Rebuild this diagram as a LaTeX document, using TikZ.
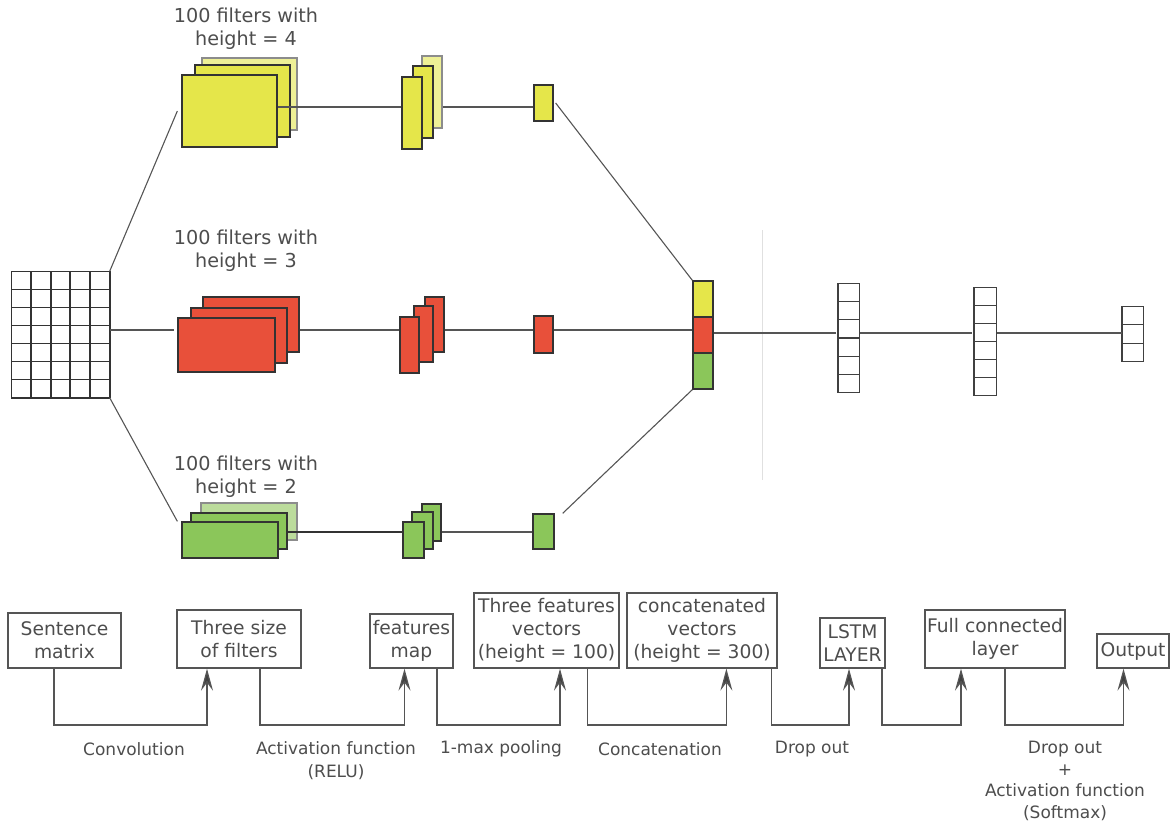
\documentclass[tikz,border=0pt]{standalone}
\usepackage{fontspec}
\setmainfont{DejaVu Sans}
\usetikzlibrary{arrows.meta,calc}
\definecolor{filterYellow}{HTML}{E5E64A}
\definecolor{paleYellow}{HTML}{EEF096}
\definecolor{filterRed}{HTML}{E8503A}
\definecolor{filterGreen}{HTML}{8BC65A}
\definecolor{paleGreen}{HTML}{BCDC9C}
\definecolor{inkGray}{HTML}{4D4D4D}
\definecolor{edgeGray}{HTML}{555555}
\newcommand{\labelFont}{\fontsize{17}{23}\selectfont}
\newcommand{\boxFont}{\fontsize{18.7}{23}\selectfont}
\newcommand{\titleFont}{\fontsize{19.2}{23}\selectfont}
% A plate given by its corners: name, left, top, right, bottom, style
\newcommand{\plate}[6]{%
  \node[plateStyle,#6,minimum width={(#4)-(#2)},minimum height={(#5)-(#3)}]
    (#1) at ({((#2)+(#4))/2},{((#3)+(#5))/2}) {};
}
% Cell lines inside a column node: name, number of cells
\newcommand{\cellColumn}[2]{%
  \foreach \k in {0,...,#2}
    \draw[gridStyle] ($(#1.north west)!\k/#2!(#1.south west)$) -- ($(#1.north east)!\k/#2!(#1.south east)$);
  \draw[gridStyle] (#1.north east) -- (#1.south east);
  \draw[gridStyle,line width=2.2pt] (#1.north west) -- (#1.south west);
}
% Elbow connector under the boxes: from node, shift, to node, shift
\newcommand{\flowLink}[4]{%
  \draw[flowStyle] ([xshift=#2]#1.south) -- ([xshift=#2]#1.south |- busLevel) -| ([xshift=#4]#3.south);
}

\begin{document}
\begin{tikzpicture}[%
  x=1pt,y=-1pt,
  lineStyle/.style={edgeGray,line width=1.1pt},
  gridStyle/.style={black!75,line width=1.4pt},
  plateStyle/.style={draw=black!80,line width=1.3pt,inner sep=0pt},
  paleStyle/.style={draw=black!45,line width=1.3pt},
  boxStyle/.style={draw=edgeGray,line width=1.3pt,inner sep=0pt,align=center,text=inkGray,font=\boxFont},
  textStyle/.style={align=center,text=inkGray,font=\labelFont,inner sep=0pt},
  flowStyle/.style={edgeGray,line width=1.3pt,-{Stealth[length=22pt,width=12pt,inset=8pt,fill=black!75]}}%
]
\useasboundingbox (0,0) rectangle (1173,825);
%
% Levels of the horizontal lines.
\coordinate (yRow) at (0,107);
\coordinate (rRow) at (0,330);
\coordinate (gRow) at (0,532);
\coordinate (denseRow) at (0,333);
\coordinate (busLevel) at (0,725);
%
% The sentence matrix.
\plate{sentMatrix}{12}{272}{109}{397}{draw=none,fill=white}
\foreach \c in {0,...,5}
  \draw[gridStyle,black!80,line width=1.7pt] ($(sentMatrix.north west)!\c/5!(sentMatrix.north east)$) -- ($(sentMatrix.south west)!\c/5!(sentMatrix.south east)$);
\foreach \r in {0,...,7}
  \draw[gridStyle,black!80,line width=1.7pt] ($(sentMatrix.north west)!\r/7!(sentMatrix.south west)$) -- ($(sentMatrix.north east)!\r/7!(sentMatrix.south east)$);
%
% Filters, height = 4.
\node[textStyle,font=\titleFont] (yTitle) at (246,28.5) {100 filters with\\height = 4};
\plate{yBack}{202}{58}{297}{130}{fill=paleYellow,paleStyle}
\plate{yMid}{195}{65}{290}{137}{fill=filterYellow}
\plate{yFront}{182}{75}{277}{147}{fill=filterYellow}
\plate{yMapBack}{422}{56}{442}{128}{fill=paleYellow,paleStyle}
\plate{yMapMid}{413}{66}{433}{138}{fill=filterYellow}
\plate{yMapFront}{402}{77}{422}{149}{fill=filterYellow}
\plate{yPool}{534}{85}{553}{121}{fill=filterYellow}
%
% Filters, height = 3.
\node[textStyle,font=\titleFont] (rTitle) at (246,251) {100 filters with\\height = 3};
\plate{rBack}{203}{297}{299}{352}{fill=filterRed}
\plate{rMid}{191}{308}{287}{363}{fill=filterRed}
\plate{rFront}{178}{318}{275}{372}{fill=filterRed}
\plate{rMapBack}{425}{297}{444}{352}{fill=filterRed}
\plate{rMapMid}{414}{306}{433}{362}{fill=filterRed}
\plate{rMapFront}{400}{317}{419}{373}{fill=filterRed}
\plate{rPool}{534}{316}{553}{353}{fill=filterRed}
%
% Filters, height = 2.
\node[textStyle,font=\titleFont] (gTitle) at (246,477) {100 filters with\\height = 2};
\plate{gBack}{201}{503}{297}{540}{fill=paleGreen,paleStyle}
\plate{gMid}{191}{513}{287}{549}{fill=filterGreen}
\plate{gFront}{182}{522}{278}{558}{fill=filterGreen}
\plate{gMapBack}{422}{504}{441}{541}{fill=filterGreen}
\plate{gMapMid}{412}{512}{433}{549}{fill=filterGreen}
\plate{gMapFront}{403}{522}{424}{558}{fill=filterGreen}
\plate{gPool}{533}{514}{554}{549}{fill=filterGreen}
%
% The concatenated vector.
\plate{cat1}{693}{281}{713}{317}{fill=filterYellow}
\plate{cat2}{693}{317}{713}{353}{fill=filterRed}
\plate{cat3}{693}{353}{713}{389}{fill=filterGreen}
%
% LSTM, dense and output columns.
\plate{lstmCol}{839}{284}{859}{392}{draw=none,fill=white}
\cellColumn{lstmCol}{6}
\plate{denseCol}{975}{288}{996}{395}{draw=none,fill=white}
\cellColumn{denseCol}{6}
\plate{outCol}{1123}{307}{1143}{361}{draw=none,fill=white}
\cellColumn{outCol}{3}
%
% Faint divider.
\draw[black!12,line width=1pt] (762,230) -- (762,480);
%
% Connections of the network.
\draw[lineStyle] (sentMatrix.north east) -- ([xshift=-4pt]yFront.west);
\draw[lineStyle] (sentMatrix.east |- rRow) -- ([xshift=-3pt]rFront.west |- rRow);
\draw[lineStyle] (sentMatrix.south east) -- ([xshift=-4pt]gFront.north west);
\draw[lineStyle] (yFront.east |- yRow) -- (yMapFront.west |- yRow);
\draw[lineStyle] (yMapBack.east |- yRow) -- (yPool.west |- yRow);
\draw[lineStyle] ([xshift=2pt]yPool.east) -- (cat1.north west);
\draw[lineStyle] (rBack.east |- rRow) -- (rMapFront.west |- rRow);
\draw[lineStyle] (rMapBack.east |- rRow) -- (rPool.west |- rRow);
\draw[lineStyle] (rPool.east |- rRow) -- (cat2.west |- rRow);
\draw[lineStyle,black!80,line width=1.5pt] (gMid.east |- gRow) -- (gMapFront.west |- gRow);
\draw[lineStyle] (gMapBack.east |- gRow) -- (gPool.west |- gRow);
\draw[lineStyle] ([xshift=8pt]gPool.north east) -- (cat3.south west);
\draw[lineStyle] (cat2.east |- denseRow) -- ([xshift=-2pt]lstmCol.west |- denseRow);
\draw[lineStyle] (lstmCol.east |- denseRow) -- ([xshift=-2pt]denseCol.west |- denseRow);
\draw[lineStyle] (denseCol.east |- denseRow) -- (outCol.west |- denseRow);
%
% The legend boxes.
\node[boxStyle,minimum width=113pt,minimum height=55pt] (sentBox) at (64.5,640.5) {Sentence\\matrix};
\node[boxStyle,minimum width=124pt,minimum height=58pt] (sizeBox) at (239,639) {Three size\\of filters};
\node[boxStyle,minimum width=83pt,minimum height=54pt] (mapBox) at (411.5,641) {features\\map};
\node[boxStyle,minimum width=145pt,minimum height=75pt] (vecBox) at (546.5,630.5) {Three features\\vectors\\(height = 100)};
\node[boxStyle,minimum width=150pt,minimum height=75pt] (catBox) at (702,630.5) {concatenated\\vectors\\(height = 300)};
\node[boxStyle,minimum width=65pt,minimum height=50pt] (lstmBox) at (852.5,643) {LSTM\\LAYER};
\node[boxStyle,minimum width=140pt,minimum height=58pt] (fullBox) at (995,639) {Full connected\\layer};
\node[boxStyle,minimum width=72pt,minimum height=34pt] (outBox) at (1133,651) {Output};
%
% Steps between the boxes.
\flowLink{sentBox}{-10.5pt}{sizeBox}{-32pt}
\flowLink{sizeBox}{21pt}{mapBox}{-7pt}
\flowLink{mapBox}{25.5pt}{vecBox}{13.5pt}
\flowLink{vecBox}{41pt}{catBox}{24.4pt}
\flowLink{catBox}{69.4pt}{lstmBox}{-3.5pt}
\flowLink{lstmBox}{29.5pt}{fullBox}{-34pt}
\flowLink{fullBox}{10pt}{outBox}{-9.5pt}
%
\node[textStyle] (convText) at (134,749) {Convolution};
\node[textStyle] (reluText) at (336,760.5) {Activation function\\(RELU)};
\node[textStyle] (poolText) at (501,749) {1-max pooling};
\node[textStyle] (concatText) at (660,749) {Concatenation};
\node[textStyle] (dropText) at (812,749) {Drop out};
\node[textStyle,font=\fontsize{17}{21.5}\selectfont] (softText) at (1065,781) {Drop out\\+\\Activation function\\(Softmax)};
\end{tikzpicture}
\end{document}
